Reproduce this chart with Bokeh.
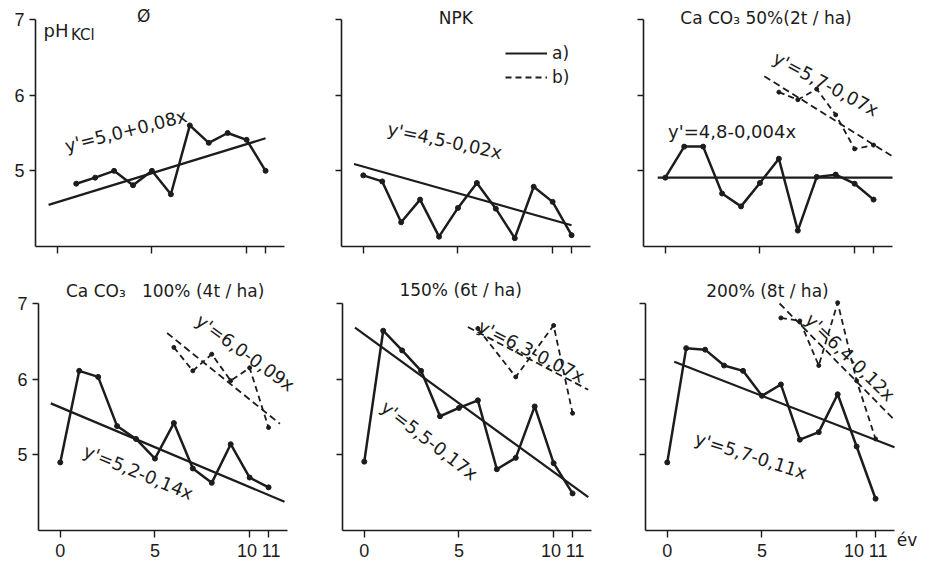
from bokeh.plotting import figure
from bokeh.layouts import column, row
from bokeh.models import (Label, Legend, LegendItem, FixedTicker, ColumnDataSource,
                          LinearAxis)
from bokeh.embed import file_html
from bokeh.resources import INLINE

FONT = "DejaVu Sans"
TICK_FONT = "Liberation Sans"
INK = "#1c1c1c"

# ---------------- data ----------------
years = [0, 1, 2, 3, 4, 5, 6, 7, 8, 9, 10, 11]
years_control = [1, 2, 3, 4, 5, 6, 7, 8, 9, 10, 11]

ph_control = [4.83, 4.91, 5.00, 4.81, 5.00, 4.69, 5.60, 5.37, 5.50, 5.41, 5.00]
ph_npk = [4.94, 4.86, 4.32, 4.62, 4.13, 4.51, 4.84, 4.50, 4.11, 4.79, 4.59, 4.15]
ph_50 = [4.91, 5.32, 5.32, 4.70, 4.53, 4.84, 5.16, 4.21, 4.92, 4.95, 4.83, 4.62]
ph_100 = [4.90, 6.11, 6.03, 5.38, 5.21, 4.95, 5.42, 4.82, 4.63, 5.14, 4.70, 4.57]
ph_150 = [4.91, 6.64, 6.38, 6.11, 5.51, 5.62, 5.72, 4.81, 4.96, 5.64, 4.89, 4.49]
ph_200 = [4.90, 6.41, 6.39, 6.18, 6.11, 5.78, 5.93, 5.20, 5.30, 5.80, 5.11, 4.42]

years_b_50 = [6, 7, 8, 9, 10, 11]
ph_b_50 = [6.04, 5.94, 6.08, 5.74, 5.29, 5.34]
years_b_100 = [6, 7, 8, 9, 10, 11]
ph_b_100 = [6.42, 6.11, 6.33, 5.98, 6.15, 5.36]
years_b_150 = [6, 8, 10, 11]
ph_b_150 = [6.67, 6.03, 6.71, 5.55]
years_b_200 = [6, 7, 8, 9, 10, 11]
ph_b_200 = [6.81, 6.77, 6.18, 7.01, 5.98, 5.21]

# regression lines as drawn (start/end)
reg_a_control = ([-0.46, 11.0], [4.55, 5.43])
reg_a_npk = ([-0.49, 11.0], [5.09, 4.28])
reg_a_50 = ([-0.40, 12.0], [4.91, 4.91])
reg_a_100 = ([-0.50, 11.84], [5.68, 4.38])
reg_a_150 = ([-0.49, 11.83], [6.68, 4.44])
reg_a_200 = ([0.37, 12.0], [6.23, 5.10])
reg_b_50 = ([5.23, 12.0], [6.25, 5.19])
reg_b_100 = ([5.64, 11.6], [6.61, 5.41])
reg_b_150 = ([5.47, 11.83], [6.69, 5.86])
reg_b_200 = ([5.93, 12.0], [7.00, 5.46])

titles = ["Ø", "NPK", "Ca CO₃ 50%(2t / ha)", "Ca CO₃\u00a0\u00a0 100% (4t / ha)",
          "150% (6t / ha)", "200% (8t / ha)"]
title_pos = [(4.57, 7.04), (4.89, 7.02), (5.32, 7.02), (5.54, 7.17), (5.09, 7.18), (5.29, 7.16)]

eq_a = ["y'=5,0+0,08x", "y'=4,5-0,02x", "y'=4,8-0,004x", "y'=5,2-0,14x",
        "y'=5,5-0,17x", "y'=5,7-0,11x"]
eq_a_pos = [(3.62, 5.53, 0.248), (4.31, 5.40, -0.212), (3.53, 5.52, 0.0),
            (4.13, 4.77, -0.39), (3.44, 5.19, -0.66), (4.42, 4.99, -0.31)]
eq_b = [None, None, "y'=5,7-0,07x", "y'=6,0-0,09x", "y'=6,3-0,07x", "y'=6,4-0,12x"]
eq_b_pos = [None, None, (8.48, 6.15, -0.49), (9.77, 6.35, -0.63),
            (8.83, 6.37, -0.47), (9.66, 6.29, -0.77)]

x_ticks = [0, 5, 10, 11]
x_tick_labels = {0: "0", 5: "5", 10: "10\u00a0", 11: "\u00a011"}
y_ticks = [5, 6, 7]
x_axis_span = (-1.15, 12.0)
y_axis_span = (4.0, 7.0)

# ---------------- layout (pixels) ----------------
XS = 249 / (x_axis_span[1] - x_axis_span[0])   # px per year
YS = 227 / (y_axis_span[1] - y_axis_span[0])   # px per pH unit


def make_panel(width, height, left_px, top_px, ylabels, xlabels):
    x0 = x_axis_span[0] - left_px / XS
    y1 = y_axis_span[1] + top_px / YS
    bottom_px = height - top_px - 227
    y0 = y_axis_span[0] - bottom_px / YS
    p = figure(frame_width=width, frame_height=height,
               min_border_left=0, min_border_right=0,
               min_border_top=0, min_border_bottom=0,
               x_range=(x0, x0 + width / XS), y_range=(y0, y1),
               x_axis_location=None, y_axis_location=None,
               output_backend="svg", toolbar_location=None, tools="")
    p.grid.grid_line_color = None
    p.outline_line_color = None
    p.background_fill_color = "white"
    p.border_fill_color = "white"
    xa = LinearAxis(fixed_location=y_axis_span[0], bounds=x_axis_span,
                    ticker=FixedTicker(ticks=x_ticks))
    ya = LinearAxis(fixed_location=x_axis_span[0], bounds=y_axis_span,
                    ticker=FixedTicker(ticks=y_ticks))
    for ax in (xa, ya):
        ax.axis_line_color = INK
        ax.axis_line_width = 1.6
        ax.major_tick_line_color = INK
        ax.major_tick_line_width = 1.4
        ax.major_tick_in = 0
        ax.minor_tick_line_color = None
        ax.major_label_text_font = TICK_FONT
        ax.major_label_text_font_size = "18px"
        ax.major_label_text_color = INK
    xa.major_tick_out = 7
    ya.major_tick_out = 6
    xa.major_label_standoff = 3
    ya.major_label_standoff = 5
    if xlabels:
        xa.major_label_overrides = dict(x_tick_labels)
    else:
        xa.major_label_overrides = {t: "" for t in x_ticks}
    if not ylabels:
        ya.major_label_overrides = {t: "" for t in y_ticks}
    p.add_layout(xa, "below")
    p.add_layout(ya, "left")
    return p


def add_text(p, x, y, text, size="18px", angle=0.0, align="center", font=FONT):
    p.add_layout(Label(x=x, y=y, text=text, angle=angle, text_align=align,
                       text_baseline="middle", text_font=font,
                       text_font_size=size, text_color=INK))


panels_cfg = [
    (306, 266, 35, 19, True, False),
    (302, 266, 35, 19, False, False),
    (323, 266, 35, 19, False, False),
    (307, 299, 38, 37, True, True),
    (302, 299, 35, 37, False, True),
    (322, 299, 36, 37, False, True),
]
series_a = [(years_control, ph_control), (years, ph_npk), (years, ph_50),
            (years, ph_100), (years, ph_150), (years, ph_200)]
regs_a = [reg_a_control, reg_a_npk, reg_a_50, reg_a_100, reg_a_150, reg_a_200]
series_b = [None, None, (years_b_50, ph_b_50), (years_b_100, ph_b_100),
            (years_b_150, ph_b_150), (years_b_200, ph_b_200)]
regs_b = [None, None, reg_b_50, reg_b_100, reg_b_150, reg_b_200]

figs = []
for i, cfg in enumerate(panels_cfg):
    p = make_panel(*cfg)
    xs, ys = series_a[i]
    src = ColumnDataSource(dict(x=xs, y=ys))
    p.line("x", "y", source=src, line_color=INK, line_width=2.5, line_join="round")
    p.scatter("x", "y", source=src, size=5, color=INK)
    rx, ry = regs_a[i]
    reg_r = p.line(rx, ry, line_color=INK, line_width=2.2)
    if series_b[i] is not None:
        bx, by = series_b[i]
        p.line(bx, by, line_color=INK, line_width=1.8, line_dash="6 4")
        p.scatter(bx, by, size=4, color=INK)
        qx, qy = regs_b[i]
        p.line(qx, qy, line_color=INK, line_width=1.8, line_dash="7 4")
        ex, ey, ea = eq_b_pos[i]
        add_text(p, ex, ey, eq_b[i], angle=ea)
    ex, ey, ea = eq_a_pos[i]
    add_text(p, ex, ey, eq_a[i], angle=ea)
    tx, ty = title_pos[i]
    add_text(p, tx, ty, titles[i], size="17px")
    if i == 0:
        add_text(p, -0.73, 6.85, "pH", size="18px", align="left")
        add_text(p, 0.72, 6.80, "KCl", size="15px", align="left")
    if i == 1:
        nodata = ColumnDataSource(dict(x=[float("nan")], y=[float("nan")]))
        dash_r = p.line("x", "y", source=nodata, line_color=INK, line_width=1.8,
                        line_dash="6 4")
        leg = Legend(items=[LegendItem(label="a)", renderers=[reg_r]),
                            LegendItem(label="b)", renderers=[dash_r])],
                     location=(199, 179), padding=0, margin=0,
                     border_line_color=None, background_fill_alpha=0,
                     glyph_width=42, glyph_height=20, label_height=20,
                     label_standoff=5, spacing=4,
                     label_text_font=FONT, label_text_font_size="17px",
                     label_text_color=INK)
        p.add_layout(leg)
    if i == 5:
        add_text(p, 12.66, 3.87, "év", size="17px")
    figs.append(p)

layout = column(row(figs[0], figs[1], figs[2], spacing=0),
                row(figs[3], figs[4], figs[5], spacing=0), spacing=0)

open("out.html", "w").write(file_html(layout, INLINE))
